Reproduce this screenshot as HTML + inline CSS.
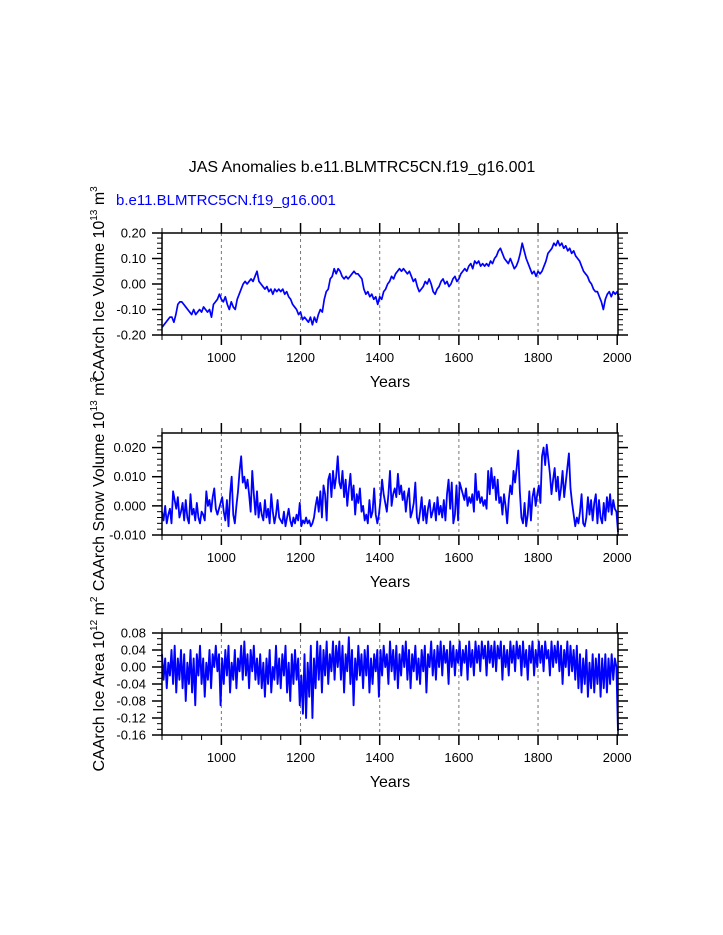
<!DOCTYPE html>
<html><head><meta charset="utf-8"><style>
html,body{margin:0;padding:0;background:#fff;}
svg{display:block;font-family:"Liberation Sans",Arial,sans-serif;}
</style></head><body>
<svg id="chart" width="723" height="935" viewBox="0 0 723 935">
<text x="362" y="172" font-size="16" text-anchor="middle">JAS Anomalies b.e11.BLMTRC5CN.f19_g16.001</text>
<text x="116" y="205" font-size="15" fill="#0000ff">b.e11.BLMTRC5CN.f19_g16.001</text>
<g id="plots"></g>
</svg>
<script>
// ---------- data ----------
const xMin = 850, xMax = 2002;
const xTicks = [1000, 1200, 1400, 1600, 1800, 2000];
const xTickLabels = ["1000", "1200", "1400", "1600", "1800", "2000"];

const iceVolStart = 850, iceVolStep = 5;
const iceVolume = [
-0.17,-0.16,-0.15,-0.14,-0.13,-0.13,-0.15,-0.12,-0.08,-0.07,
-0.07,-0.08,-0.09,-0.10,-0.11,-0.12,-0.10,-0.12,-0.11,-0.10,
-0.11,-0.09,-0.10,-0.11,-0.10,-0.13,-0.08,-0.07,-0.06,-0.04,
-0.06,-0.07,-0.05,-0.08,-0.10,-0.07,-0.09,-0.10,-0.06,-0.04,
-0.02,0.00,0.01,0.00,0.01,0.02,0.01,0.03,0.05,0.01,
0.00,-0.01,-0.02,-0.01,-0.03,-0.02,-0.04,-0.02,-0.03,-0.02,
-0.03,-0.02,-0.04,-0.03,-0.05,-0.06,-0.08,-0.09,-0.10,-0.12,
-0.11,-0.14,-0.13,-0.14,-0.15,-0.13,-0.16,-0.13,-0.15,-0.12,
-0.10,-0.11,-0.06,-0.03,-0.02,0.02,0.03,0.06,0.04,0.06,
0.05,0.03,0.02,0.03,0.02,0.03,0.04,0.05,0.04,0.04,
0.03,0.02,-0.02,-0.04,-0.03,-0.05,-0.04,-0.06,-0.05,-0.08,
-0.05,-0.06,-0.03,-0.02,0.00,0.01,0.03,0.02,0.04,0.05,
0.06,0.05,0.06,0.05,0.04,0.05,0.03,0.01,0.02,-0.01,
-0.03,-0.02,-0.01,0.01,0.00,0.02,0.00,-0.03,-0.04,-0.02,
-0.01,0.01,0.02,0.00,0.01,-0.01,0.00,0.02,0.03,0.01,
0.02,0.04,0.05,0.06,0.05,0.07,0.08,0.06,0.09,0.08,
0.09,0.07,0.08,0.07,0.08,0.07,0.09,0.08,0.10,0.11,
0.13,0.14,0.12,0.10,0.09,0.08,0.10,0.08,0.06,0.07,
0.09,0.12,0.16,0.13,0.10,0.08,0.06,0.04,0.05,0.03,
0.05,0.04,0.05,0.07,0.09,0.12,0.13,0.14,0.16,0.15,
0.17,0.15,0.16,0.14,0.15,0.13,0.14,0.12,0.13,0.11,
0.10,0.09,0.07,0.05,0.04,0.03,0.01,0.00,-0.02,-0.03,
-0.03,-0.05,-0.07,-0.10,-0.06,-0.04,-0.03,-0.05,-0.03,-0.04,
-0.03,-0.06
];

const snowStart = 850, snowStep = 4;
const snowVolume = [
-0.002,-0.005,0.000,-0.006,-0.003,-0.001,-0.006,0.005,0.002,-0.001,0.003,-0.004,-0.002,
0.001,-0.005,0.002,-0.004,-0.006,0.004,-0.003,-0.001,-0.005,0.001,-0.004,-0.006,-0.002,
-0.003,-0.005,0.005,0.000,0.002,-0.002,0.003,0.006,-0.001,-0.003,-0.001,0.001,
0.003,-0.002,-0.005,0.002,-0.007,0.004,0.010,-0.003,-0.006,0.000,0.005,0.012,0.017,
0.008,0.010,0.006,0.009,0.004,-0.002,0.012,0.004,-0.003,0.005,-0.004,0.001,
-0.003,-0.005,0.002,-0.004,-0.001,-0.006,0.004,-0.002,-0.006,-0.003,0.002,-0.004,-0.005,
-0.006,-0.002,-0.007,-0.004,-0.001,-0.005,-0.007,-0.004,-0.006,-0.003,-0.005,0.001,
-0.007,-0.005,-0.006,-0.004,-0.006,-0.005,-0.007,-0.006,-0.004,0.000,0.003,-0.002,0.005,
-0.004,0.007,0.004,-0.005,0.009,0.011,0.003,0.012,0.006,0.010,0.017,0.008,
0.006,0.012,0.003,0.009,0.000,0.006,0.011,0.002,0.007,-0.003,0.004,0.001,0.006,
-0.002,0.000,-0.005,-0.003,-0.006,0.002,-0.004,-0.002,0.006,-0.003,-0.006,-0.003,
0.002,0.009,0.004,0.001,-0.002,0.004,0.012,0.000,0.004,0.006,0.003,0.011,0.004,
0.007,0.002,0.005,-0.002,0.003,0.006,-0.004,-0.002,0.001,0.008,-0.004,-0.006,
-0.002,0.003,-0.005,0.000,-0.006,-0.001,0.002,-0.004,-0.002,0.001,-0.005,0.003,-0.003,
0.000,-0.004,0.002,-0.005,0.004,0.009,-0.001,0.008,-0.006,-0.003,0.007,-0.005,
0.008,0.006,0.004,0.002,0.006,0.000,0.003,0.001,0.004,-0.002,0.011,0.002,0.005,
0.001,0.003,0.000,0.002,-0.001,0.012,0.004,0.013,0.006,0.010,0.002,0.009,
0.001,0.003,-0.003,0.004,0.000,-0.006,0.002,0.007,0.004,0.012,0.008,0.013,0.019,
0.005,-0.004,-0.006,0.001,-0.007,-0.003,0.005,-0.005,0.003,0.006,0.000,0.004,
0.007,0.001,0.017,0.020,0.014,0.021,0.016,0.011,0.004,0.009,0.013,0.005,0.010,
0.002,0.006,0.012,0.003,0.008,0.013,0.018,0.006,0.001,-0.003,-0.007,-0.004,
-0.006,-0.002,0.004,-0.006,-0.007,-0.004,0.003,-0.003,0.002,-0.005,0.001,0.004,-0.006,
0.002,-0.004,-0.006,0.001,-0.005,0.003,-0.002,0.004,-0.003,0.002,-0.001,-0.002,-0.009
];

const areaStart = 850, areaStep = 4;
const iceArea = [
0.03,-0.03,0.02,-0.05,0.01,-0.02,0.04,-0.04,0.05,-0.06,0.02,-0.03,0.04,
-0.05,0.03,-0.08,0.01,-0.04,0.04,-0.06,0.02,-0.09,0.03,-0.02,0.05,-0.04,
0.02,-0.07,0.01,-0.03,0.04,-0.05,0.03,0.00,0.05,-0.01,0.03,-0.09,
0.02,-0.04,0.04,-0.02,0.05,-0.06,0.01,-0.03,0.04,-0.05,0.02,-0.01,0.05,
-0.03,0.06,-0.02,0.03,-0.05,0.04,-0.01,0.05,-0.03,0.02,-0.04,0.03,
-0.05,0.01,-0.07,0.02,-0.04,0.04,-0.06,0.00,-0.03,0.05,-0.04,0.02,-0.05,
0.03,-0.02,0.05,-0.06,0.01,-0.08,0.03,-0.04,0.04,-0.03,0.02,-0.09,
-0.02,-0.11,0.03,-0.12,0.01,-0.07,0.05,-0.12,0.02,-0.05,0.06,-0.03,0.05,
-0.06,0.04,-0.02,0.06,-0.04,0.03,-0.01,0.06,-0.03,0.05,0.00,0.06,
-0.03,0.05,-0.06,0.03,-0.01,0.07,-0.04,0.04,-0.09,0.02,-0.03,0.05,-0.02,
0.03,-0.05,0.04,-0.02,0.05,-0.06,0.02,-0.04,0.03,-0.01,0.04,-0.07,
0.04,-0.02,0.05,0.00,0.03,-0.04,0.06,-0.01,0.04,-0.03,0.05,-0.05,0.03,
-0.02,0.05,0.00,0.06,-0.03,0.04,-0.05,0.03,-0.01,0.05,-0.03,0.02,
-0.04,0.04,-0.01,0.05,-0.06,0.03,0.00,0.06,-0.02,0.04,-0.03,0.05,0.00,
0.06,-0.02,0.05,0.01,0.04,-0.04,0.06,0.00,0.05,-0.02,0.04,0.01,
0.06,-0.02,0.04,0.01,0.05,-0.03,0.06,0.00,0.04,-0.02,0.06,0.01,0.05,
-0.01,0.06,0.02,0.05,-0.02,0.06,0.01,0.05,0.00,0.06,-0.01,0.05,
0.02,0.06,-0.03,0.05,0.00,0.04,-0.02,0.06,0.01,0.05,-0.01,0.06,0.02,
0.05,-0.02,0.06,0.00,0.04,-0.03,0.05,0.01,0.06,-0.02,0.04,0.00,
0.06,0.01,0.05,-0.01,0.06,0.02,0.04,-0.02,0.06,0.00,0.05,0.01,0.06,
-0.01,0.05,-0.04,0.04,0.00,0.06,-0.02,0.05,-0.01,0.04,-0.03,0.05,
-0.05,0.03,-0.06,0.02,-0.04,0.04,-0.07,0.01,-0.05,0.03,-0.06,0.02,-0.04,
0.03,-0.07,0.02,-0.05,0.03,-0.06,0.02,-0.04,0.03,-0.03,0.02,0.00,-0.15
];

const p1YTicks = [-0.2, -0.1, 0.0, 0.1, 0.2];
const p1YLabels = ["-0.20", "-0.10", "0.00", "0.10", "0.20"];
const p2YTicks = [-0.01, 0.0, 0.01, 0.02];
const p2YLabels = ["-0.010", "0.000", "0.010", "0.020"];
const p3YTicks = [-0.16, -0.12, -0.08, -0.04, 0.0, 0.04, 0.08];
const p3YLabels = ["-0.16", "-0.12", "-0.08", "-0.04", "0.00", "0.04", "0.08"];

// ---------- drawing ----------
const NS = "http://www.w3.org/2000/svg";
const root = document.getElementById("plots");
const L = 162, R = 618;
function mk(tag, attrs, parent) {
  const e = document.createElementNS(NS, tag);
  for (const k in attrs) e.setAttribute(k, attrs[k]);
  parent.appendChild(e);
  return e;
}
function xs(v) { return L + (v - xMin) / (xMax - xMin) * (R - L); }

function panel(name, top, yMin, yMax, yTicks, yLabels, nMinor, values, start, step, titleParts, sw) {
  const bot = top + 102;
  const ys = v => bot - (v - yMin) / (yMax - yMin) * (bot - top);
  const g = mk("g", {}, root);
  
  
  xTicks.forEach(t => {
    if (t >= 2000) return;
    const gl = mk("line", {x1: xs(t), x2: xs(t), y1: top, y2: bot, stroke: "#777", "stroke-width": 1, "stroke-dasharray": "3,3"}, g);
    
    
  });
  let d = "";
  values.forEach((v, i) => {
    const yr = start + step * i;
    d += (i ? "L" : "M") + xs(yr).toFixed(2) + "," + ys(v).toFixed(2);
  });
  const path = mk("path", {d: d, fill: "none", stroke: "#0000ff", "stroke-width": sw, "stroke-linejoin": "round"}, g);
  
  
  const fr = mk("rect", {x: L, y: top, width: R - L, height: bot - top, fill: "none", stroke: "#000", "stroke-width": 1.5}, g);
  
  
  for (let yr = 850; yr <= xMax; yr += 50) {
    const major = yr % 200 === 0;
    const len = major ? 10 : 5;
    const x = xs(yr);
    mk("line", {x1: x, x2: x, y1: bot, y2: bot + len, stroke: "#000", "stroke-width": major ? 1.5 : 1}, g);
    mk("line", {x1: x, x2: x, y1: top, y2: top - len, stroke: "#000", "stroke-width": major ? 1.5 : 1}, g);
  }
  xTicks.forEach((t, i) => {
    const tl = mk("text", {x: xs(t), y: bot + 27, "font-size": 13, "text-anchor": "middle"}, g);
    tl.textContent = xTickLabels[i];
    
    
  });
  const xt = mk("text", {x: 390, y: bot + 52, "font-size": 16, "text-anchor": "middle"}, g);
  xt.textContent = "Years";
  
  
  const majStep = yTicks[1] - yTicks[0];
  const minStep = majStep / nMinor;
  for (let k = 0; ; k++) {
    const v = yTicks[0] + k * minStep;
    if (v > yMax + 1e-9) break;
    const major = k % nMinor === 0;
    const len = major ? 10 : 5;
    const y = ys(v);
    mk("line", {x1: L, x2: L - len, y1: y, y2: y, stroke: "#000", "stroke-width": major ? 1.5 : 1}, g);
    mk("line", {x1: R, x2: R + len, y1: y, y2: y, stroke: "#000", "stroke-width": major ? 1.5 : 1}, g);
  }
  for (let k = -1; ; k--) {
    const v = yTicks[0] + k * minStep;
    if (v < yMin - 1e-9) break;
    const y = ys(v);
    mk("line", {x1: L, x2: L - 5, y1: y, y2: y, stroke: "#000", "stroke-width": 1}, g);
    mk("line", {x1: R, x2: R + 5, y1: y, y2: y, stroke: "#000", "stroke-width": 1}, g);
  }
  yTicks.forEach((t, i) => {
    const tl = mk("text", {x: 146, y: ys(t) + 4.5, "font-size": 13, "text-anchor": "end"}, g);
    tl.textContent = yLabels[i];
    
    
  });
  const cy = (top + bot) / 2;
  const yt = mk("text", {x: 0, y: 0, "font-size": 16, "text-anchor": "middle", transform: "translate(104," + cy + ") rotate(-90)"}, g);
  
  
  const t1 = mk("tspan", {}, yt); t1.textContent = titleParts[0];
  const t2 = mk("tspan", {dy: -7, "font-size": 10}, yt); t2.textContent = titleParts[1];
  const t3 = mk("tspan", {dy: 7}, yt); t3.textContent = titleParts[2];
  const t4 = mk("tspan", {dy: -7, "font-size": 10}, yt); t4.textContent = titleParts[3];
}

panel("ice-volume", 233, -0.2, 0.2, p1YTicks, p1YLabels, 5, iceVolume, iceVolStart, iceVolStep,
  ["CAArch Ice Volume 10", "13", " m", "3"], 1.7);
panel("snow-volume", 433, -0.01, 0.025, p2YTicks, p2YLabels, 5, snowVolume, snowStart, snowStep,
  ["CAArch Snow Volume 10", "13", " m", "3"], 1.8);
panel("ice-area", 633, -0.16, 0.08, p3YTicks, p3YLabels, 3, iceArea, areaStart, areaStep,
  ["CAArch Ice Area 10", "12", " m", "2"], 1.9);
</script>
</body></html>
